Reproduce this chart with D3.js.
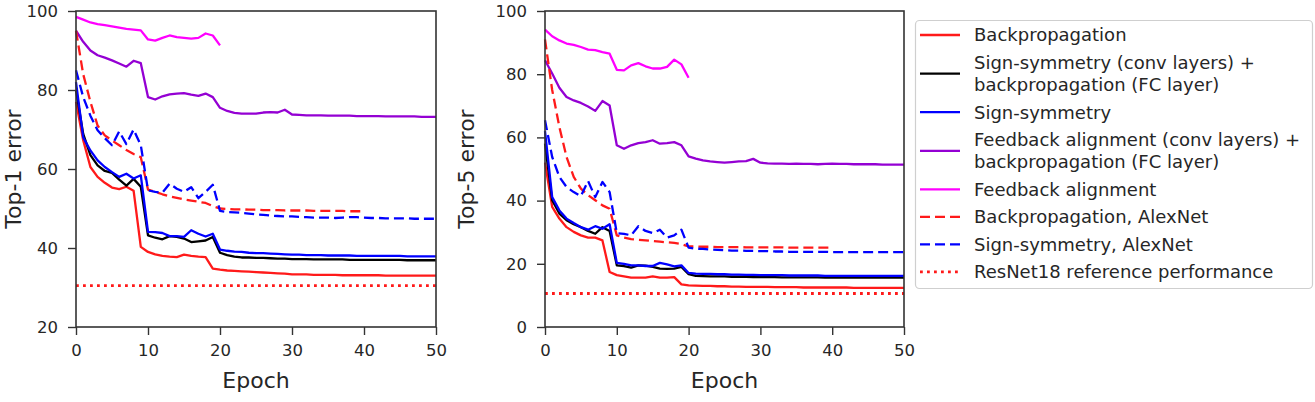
<!DOCTYPE html>
<html>
<head>
<meta charset="utf-8">
<script src="https://cdn.jsdelivr.net/npm/d3@7"></script>
<style>
  html, body { margin: 0; padding: 0; background: #fff; }
  svg { display: block; font-family: "DejaVu Sans", sans-serif; }
</style>
</head>
<body>
<svg id="chart" width="1315" height="402"></svg>
<script>
// ---------------- DATA ----------------
const seriesNames = [
  "Backpropagation",
  "Sign-symmetry (conv layers) +\nbackpropagation (FC layer)",
  "Sign-symmetry",
  "Feedback alignment (conv layers) +\nbackpropagation (FC layer)",
  "Feedback alignment",
  "Backpropagation, AlexNet",
  "Sign-symmetry, AlexNet",
  "ResNet18 reference performance"
];
const xTicks = [0, 10, 20, 30, 40, 50];
const yTicksTop1 = [20, 40, 60, 80, 100];
const yTicksTop5 = [0, 20, 40, 60, 80, 100];

// Top-1 error (left panel), one value per epoch starting at 0
const top1Backprop = [77,67.3,60.5,58,56.5,55.3,54.9,55.5,54.5,40.3,39,38.4,38,37.8,37.7,38.3,38,37.8,37.7,34.8,34.5,34.3,34.2,34.1,34,33.9,33.8,33.7,33.6,33.5,33.3,33.3,33.3,33.2,33.2,33.2,33.2,33.1,33.1,33.1,33.1,33.1,33.1,33,33,33,33,33,33,33,33];
const top1SignSymBpFC = [80,68.9,63.5,60.9,59.5,59,57.3,55.8,57.5,55.5,43.2,42.6,42.2,43,42.8,42.4,41.5,41.7,41.9,42.8,38.8,38.2,37.8,37.6,37.6,37.5,37.5,37.4,37.3,37.3,37.2,37.2,37.2,37.1,37.1,37.1,37.1,37.1,37,37,37,37,37,37,37,37,36.9,36.9,36.9,36.9,36.9];
const top1SignSym = [82,68,64.7,62.2,60.5,59.2,58,58.8,57.6,58.4,44.1,44,43.8,43,43,42.8,44.5,43.6,42.9,43.6,39.6,39.3,39.1,39,38.8,38.7,38.7,38.6,38.5,38.4,38.3,38.3,38.2,38.2,38.2,38.1,38.1,38.1,38.1,38,38,38,38,38,38,38,37.9,37.9,37.9,37.9,37.9];
const top1FeedbackBpFC = [95,92.2,90,88.8,88.2,87.5,86.7,85.9,87.4,86.8,78.2,77.6,78.4,78.9,79.1,79.2,78.8,78.5,79.1,78.2,75.5,74.7,74.2,74,74,74,74.3,74.4,74.3,75,73.8,73.7,73.6,73.6,73.6,73.5,73.5,73.5,73.5,73.4,73.4,73.4,73.4,73.3,73.3,73.3,73.3,73.3,73.2,73.2,73.2];
const top1Feedback = [98.5,97.8,97.1,96.7,96.4,96.1,95.8,95.5,95.3,95.1,92.8,92.5,93.2,93.8,93.4,93.2,93,93.2,94.3,93.8,91.3];
const top1BackpropAlex = [95,84,77,71,68.5,67.2,66,64.8,63.8,63,54.8,54.2,53.6,53.1,52.7,52.3,52,51.7,51.4,50.6,50,49.9,49.8,49.8,49.7,49.7,49.6,49.6,49.6,49.5,49.5,49.5,49.5,49.4,49.4,49.4,49.4,49.4,49.3,49.3,49.3];
const top1SignSymAlex = [85,78.2,73.5,69.8,67.8,66,69.5,66.3,70,66,54.6,54.2,54,56.3,55,54.2,55.4,52.6,54.2,56,49.4,49.1,49,48.9,48.7,48.5,48.4,48.2,48.1,48,48,47.9,47.8,47.7,47.7,47.7,47.6,47.7,47.8,47.8,47.7,47.6,47.6,47.5,47.5,47.5,47.5,47.4,47.4,47.4,47.4];
const top1ResNet18 = 30.5;

// Top-5 error (right panel)
const top5Backprop = [52,38,34.3,31.6,30.1,29,28.3,28.3,27.4,17.4,16.4,16,15.6,15.6,15.6,16,15.6,15.6,15.8,13.5,13.2,13.1,13,13,12.9,12.9,12.8,12.8,12.7,12.7,12.7,12.7,12.6,12.6,12.6,12.6,12.5,12.5,12.5,12.5,12.5,12.5,12.5,12.4,12.4,12.4,12.4,12.4,12.4,12.4,12.4];
const top5SignSymBpFC = [58,40.1,35.9,33.8,32.5,31.6,30.4,29.5,31.6,30.4,19.5,19.3,18.8,19.5,19.4,19,18.5,18.4,18.5,19,16.7,16.2,16.1,16,16,16,15.9,15.9,15.9,15.8,15.8,15.8,15.8,15.7,15.7,15.7,15.7,15.7,15.7,15.6,15.6,15.6,15.6,15.6,15.6,15.6,15.6,15.6,15.6,15.6,15.6];
const top5SignSym = [62,41.1,36.9,34.3,32.9,31.6,30.8,31.9,31.1,32.5,20.3,20,19.5,19.5,19.3,19.3,20.3,19.8,19.2,19.5,17.1,16.9,16.8,16.8,16.7,16.7,16.6,16.6,16.5,16.5,16.4,16.4,16.4,16.4,16.3,16.3,16.3,16.3,16.3,16.2,16.2,16.2,16.2,16.2,16.2,16.2,16.2,16.2,16.2,16.2,16.2];
const top5FeedbackBpFC = [84.4,80.2,75.7,72.8,71.7,70.9,69.8,68.4,71.5,70.1,57.5,56.4,57.5,58.2,58.5,59.1,58,58.2,58.5,57.5,54,53.3,52.7,52.4,52.2,52,52.2,52.4,52.5,53.2,52,51.8,51.7,51.7,51.6,51.7,51.6,51.6,51.5,51.6,51.7,51.6,51.6,51.5,51.5,51.5,51.5,51.4,51.4,51.4,51.4];
const top5Feedback = [94.1,92,90.7,89.7,89.3,88.6,87.8,87.6,87,86.5,81.4,81.2,82.8,83.5,82.5,81.8,81.8,82.3,84.6,83.1,78.9];
const top5BackpropAlex = [91,75,63.3,53.8,47.5,43.8,41.7,40.1,38.5,37.4,29,28.3,27.8,27.6,27.4,27.2,27,26.8,26.6,26.2,25.5,25.5,25.4,25.4,25.3,25.3,25.3,25.3,25.2,25.2,25.2,25.2,25.2,25.2,25.1,25.1,25.1,25.1,25.1,25.1,25.1];
const top5SignSymAlex = [65.4,53.8,47.5,44.3,42.7,41.4,46.2,41.1,45.9,42.7,29.7,29.5,29,31.9,30.4,29.7,30.8,28.3,29,30.8,25.1,24.8,24.7,24.5,24.4,24.3,24.2,24.2,24.1,24.1,24,24,23.9,23.9,23.8,23.8,23.8,23.8,23.8,23.8,23.7,23.7,23.7,23.7,23.7,23.7,23.7,23.7,23.7,23.7,23.7];
const top5ResNet18 = 10.6;

// ---------------- STYLE ----------------
const styles = [
  { color: "#ff1a1a", dash: null, width: 2.3 },
  { color: "#000000", dash: null, width: 2.3 },
  { color: "#0000ff", dash: null, width: 2.3 },
  { color: "#9400d3", dash: null, width: 2.3 },
  { color: "#ff00ff", dash: null, width: 2.3 },
  { color: "#ff1a1a", dash: "10,5", width: 2.3 },
  { color: "#0000ff", dash: "10,5", width: 2.3 },
  { color: "#ff1a1a", dash: "2.8,4.2", width: 2.8 }
];

const svg = d3.select("#chart");
const textColor = "#262626";
const axisColor = "#333";

function panel(cfg) {
  const x = d3.scaleLinear().domain([0, 50]).range([cfg.x0, cfg.x1]);
  const y = d3.scaleLinear().domain(cfg.yDomain).range([327, 11]);
  const g = svg.append("g");

  const line = d3.line().x((d, i) => x(i)).y(d => y(d));
  cfg.series.forEach((vals, k) => {
    const st = styles[k];
    let data = vals;
    let gen = line;
    if (typeof vals === "number") {
      data = [vals, vals];
      gen = d3.line().x((d, i) => x(i * 50)).y(d => y(d));
    }
    g.append("path")
      .datum(data)
      .attr("d", gen)
      .attr("fill", "none")
      .attr("stroke", st.color)
      .attr("stroke-width", st.width)
      .attr("stroke-linejoin", "round")
      .attr("stroke-dasharray", st.dash);
  });

  // axes
  const xAxis = g.append("g").attr("transform", "translate(0,327)")
    .call(d3.axisBottom(x).tickValues(xTicks).tickSize(8).tickPadding(9).tickSizeOuter(0));
  const yAxis = g.append("g").attr("transform", `translate(${cfg.x0},0)`)
    .call(d3.axisLeft(y).tickValues(cfg.yTicks).tickSize(8).tickPadding(10).tickSizeOuter(0));
  [xAxis, yAxis].forEach(a => {
    a.select(".domain").remove();
    a.selectAll(".tick line").attr("stroke", axisColor).attr("stroke-width", 1.4);
    a.selectAll(".tick text").attr("fill", textColor)
      .style("font-family", "DejaVu Sans").style("font-size", "16.5px");
  });

  // frame
  g.append("rect")
    .attr("x", cfg.x0).attr("y", 11)
    .attr("width", cfg.x1 - cfg.x0).attr("height", 316)
    .attr("fill", "none").attr("stroke", axisColor).attr("stroke-width", 1.6);

  // labels
  g.append("text")
    .attr("x", (cfg.x0 + cfg.x1) / 2).attr("y", 388)
    .attr("text-anchor", "middle").attr("fill", textColor)
    .style("font-size", "22px").text("Epoch");
  g.append("text")
    .attr("transform", `translate(${cfg.ylabX},169) rotate(-90)`)
    .attr("text-anchor", "middle").attr("fill", textColor)
    .style("font-size", "22px").text(cfg.ylabel);
}

panel({
  x0: 76, x1: 436, yDomain: [20, 100], yTicks: yTicksTop1, ylabX: 21, ylabel: "Top-1 error",
  series: [top1Backprop, top1SignSymBpFC, top1SignSym, top1FeedbackBpFC, top1Feedback,
           top1BackpropAlex, top1SignSymAlex, top1ResNet18]
});
panel({
  x0: 545, x1: 904, yDomain: [0, 100], yTicks: yTicksTop5, ylabX: 474, ylabel: "Top-5 error",
  series: [top5Backprop, top5SignSymBpFC, top5SignSym, top5FeedbackBpFC, top5Feedback,
           top5BackpropAlex, top5SignSymAlex, top5ResNet18]
});

// ---------------- LEGEND ----------------
const lg = svg.append("g");
lg.append("rect")
  .attr("x", 915.5).attr("y", 20.5).attr("width", 397).attr("height", 268)
  .attr("rx", 4).attr("fill", "#fff").attr("stroke", "#cfcfcf").attr("stroke-width", 1.2);

let yCur = 35;
seriesNames.forEach((name, k) => {
  const lines = name.split("\n");
  const ys = lines.map((_, i) => yCur + i * 22.2);
  const yc = (ys[0] + ys[ys.length - 1]) / 2;
  lg.append("line")
    .attr("x1", 920).attr("x2", 960).attr("y1", yc).attr("y2", yc)
    .attr("stroke", styles[k].color).attr("stroke-width", styles[k].width)
    .attr("stroke-dasharray", styles[k].dash);
  const t = lg.append("text").attr("fill", textColor).style("font-size", "18px");
  lines.forEach((ln, i) => {
    t.append("tspan").attr("x", 974).attr("y", ys[i]).attr("dy", "0.36em").text(ln);
  });
  yCur = ys[ys.length - 1] + 27.5;
});
</script>
</body>
</html>
